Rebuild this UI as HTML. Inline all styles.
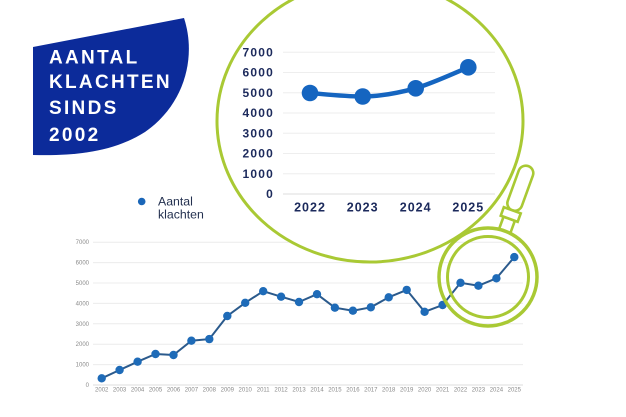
<!DOCTYPE html>
<html><head><meta charset="utf-8"><style>
html,body{margin:0;padding:0;background:#fff;}
svg{display:block;}
</style></head><body>
<svg width="626" height="417" viewBox="0 0 626 417" xmlns="http://www.w3.org/2000/svg">
<rect width="626" height="417" fill="#fff"/>
<!-- Banner -->
<path d="M33,47 L184,18 C197,58 184,105 145,132 C112,153 72,156 33,155 Z" fill="#0c2b9a"/>
<g font-family="Liberation Sans, sans-serif" font-weight="bold" font-size="19" fill="#fff" letter-spacing="2.3">
<text x="49" y="63.5">AANTAL</text>
<text x="49" y="88">KLACHTEN</text>
<text x="49" y="114">SINDS</text>
<text x="49" y="141">2002</text>
</g>
<!-- Legend -->
<circle cx="141.7" cy="201.5" r="3.8" fill="#1a66b8"/>
<g font-family="Liberation Sans, sans-serif" font-size="12.3" fill="#23304f">
<text x="158" y="205.5">Aantal</text>
<text x="158" y="218.5">klachten</text>
</g>
<!-- Bottom chart gridlines -->
<g stroke="#ececec" stroke-width="1">
<line x1="93" y1="242.2" x2="523" y2="242.2"/>
<line x1="93" y1="262.6" x2="523" y2="262.6"/>
<line x1="93" y1="283" x2="523" y2="283"/>
<line x1="93" y1="303.4" x2="523" y2="303.4"/>
<line x1="93" y1="323.8" x2="523" y2="323.8"/>
<line x1="93" y1="344.2" x2="523" y2="344.2"/>
<line x1="93" y1="364.6" x2="523" y2="364.6"/>
</g>
<line x1="93" y1="385" x2="523" y2="385" stroke="#dcdcdc" stroke-width="1"/>
<g font-family="Liberation Sans, sans-serif" font-size="6" fill="#8a8a8a" text-anchor="end">
<text x="89" y="244.2">7000</text>
<text x="89" y="264.6">6000</text>
<text x="89" y="285">5000</text>
<text x="89" y="305.4">4000</text>
<text x="89" y="325.8">3000</text>
<text x="89" y="346.2">2000</text>
<text x="89" y="366.6">1000</text>
<text x="89" y="387">0</text>
</g>
<g font-family="Liberation Sans, sans-serif" font-size="6" fill="#8a8a8a" text-anchor="middle">
<text x="101.7" y="391.5">2002</text>
<text x="119.6" y="391.5">2003</text>
<text x="137.6" y="391.5">2004</text>
<text x="155.5" y="391.5">2005</text>
<text x="173.5" y="391.5">2006</text>
<text x="191.4" y="391.5">2007</text>
<text x="209.3" y="391.5">2008</text>
<text x="227.3" y="391.5">2009</text>
<text x="245.2" y="391.5">2010</text>
<text x="263.2" y="391.5">2011</text>
<text x="281.1" y="391.5">2012</text>
<text x="299.0" y="391.5">2013</text>
<text x="317.0" y="391.5">2014</text>
<text x="334.9" y="391.5">2015</text>
<text x="352.9" y="391.5">2016</text>
<text x="370.8" y="391.5">2017</text>
<text x="388.7" y="391.5">2018</text>
<text x="406.7" y="391.5">2019</text>
<text x="424.6" y="391.5">2020</text>
<text x="442.6" y="391.5">2021</text>
<text x="460.5" y="391.5">2022</text>
<text x="478.4" y="391.5">2023</text>
<text x="496.4" y="391.5">2024</text>
<text x="514.3" y="391.5">2025</text>
</g>
<!-- Big zoom ellipse -->
<ellipse cx="370" cy="121" rx="153" ry="141" fill="#fff" stroke="#a9c934" stroke-width="3"/>
<!-- Upper chart -->
<g stroke="#eeeeee" stroke-width="1">
<line x1="283" y1="52.3" x2="495" y2="52.3"/>
<line x1="283" y1="72.5" x2="495" y2="72.5"/>
<line x1="283" y1="92.8" x2="495" y2="92.8"/>
<line x1="283" y1="113" x2="495" y2="113"/>
<line x1="283" y1="133.3" x2="495" y2="133.3"/>
<line x1="283" y1="153.5" x2="495" y2="153.5"/>
<line x1="283" y1="173.8" x2="495" y2="173.8"/>
</g>
<line x1="283" y1="194" x2="495" y2="194" stroke="#dddddd" stroke-width="1"/>
<g font-family="Liberation Sans, sans-serif" font-weight="bold" font-size="12" fill="#1c2a5c" text-anchor="end" letter-spacing="1.2">
<text x="274" y="56.5">7000</text>
<text x="274" y="76.7">6000</text>
<text x="274" y="97">5000</text>
<text x="274" y="117.2">4000</text>
<text x="274" y="137.5">3000</text>
<text x="274" y="157.7">2000</text>
<text x="274" y="178">1000</text>
<text x="274" y="198.2">0</text>
</g>
<g font-family="Liberation Sans, sans-serif" font-weight="bold" font-size="12.5" fill="#1c2a5c" text-anchor="middle" letter-spacing="1">
<text x="310" y="211.5">2022</text>
<text x="362.7" y="211.5">2023</text>
<text x="415.7" y="211.5">2024</text>
<text x="468.3" y="211.5">2025</text>
</g>
<path d="M310,93 C327.5,94.5 345,96.5 362.7,96.5 C380,96.5 398,93 415.7,88.3 C433,83 450,75 468.3,67.3" fill="none" stroke="#1565c0" stroke-width="4.5"/>
<g fill="#1565c0">
<circle cx="310" cy="93" r="8.3"/>
<circle cx="362.7" cy="96.5" r="8.3"/>
<circle cx="415.7" cy="88.3" r="8.3"/>
<circle cx="468.3" cy="67.3" r="8.3"/>
</g>
<!-- Magnifier handle -->
<g transform="translate(488,277) rotate(20)" fill="#fff" stroke="#a9c934" stroke-width="2.6">
<rect x="-7.5" y="-118" width="15" height="47" rx="7.5"/>
<rect x="-6" y="-62" width="12" height="13"/>
<rect x="-9" y="-71" width="18" height="9"/>
</g>
<!-- Bottom series -->
<polyline fill="none" stroke="#2b5a8c" stroke-width="2" points="101.7,378.3 119.6,370 137.6,361.7 155.5,354 173.5,355 191.4,340.7 209.3,339.1 227.3,316 245.2,302.8 263.2,291.2 281.1,296.7 299,302 317,294.2 334.9,307.7 352.9,310.7 370.8,307.3 388.7,297.3 406.7,289.9 424.6,311.8 442.6,305 460.5,282.8 478.4,285.7 496.4,278.3 514.3,257.1"/>
<g fill="#1e6bb8">
<circle cx="101.7" cy="378.3" r="4.2"/>
<circle cx="119.6" cy="370" r="4.2"/>
<circle cx="137.6" cy="361.7" r="4.2"/>
<circle cx="155.5" cy="354" r="4.2"/>
<circle cx="173.5" cy="355" r="4.2"/>
<circle cx="191.4" cy="340.7" r="4.2"/>
<circle cx="209.3" cy="339.1" r="4.2"/>
<circle cx="227.3" cy="316" r="4.2"/>
<circle cx="245.2" cy="302.8" r="4.2"/>
<circle cx="263.2" cy="291.2" r="4.2"/>
<circle cx="281.1" cy="296.7" r="4.2"/>
<circle cx="299" cy="302" r="4.2"/>
<circle cx="317" cy="294.2" r="4.2"/>
<circle cx="334.9" cy="307.7" r="4.2"/>
<circle cx="352.9" cy="310.7" r="4.2"/>
<circle cx="370.8" cy="307.3" r="4.2"/>
<circle cx="388.7" cy="297.3" r="4.2"/>
<circle cx="406.7" cy="289.9" r="4.2"/>
<circle cx="424.6" cy="311.8" r="4.2"/>
<circle cx="442.6" cy="305" r="4.2"/>
<circle cx="460.5" cy="282.8" r="4.2"/>
<circle cx="478.4" cy="285.7" r="4.2"/>
<circle cx="496.4" cy="278.3" r="4.2"/>
<circle cx="514.3" cy="257.1" r="4.2"/>
</g>
<!-- Lens rings -->
<circle cx="488" cy="277" r="49" fill="none" stroke="#a9c934" stroke-width="3.5"/>
<circle cx="488" cy="277" r="40.5" fill="none" stroke="#a9c934" stroke-width="3"/>
</svg>
</body></html>
